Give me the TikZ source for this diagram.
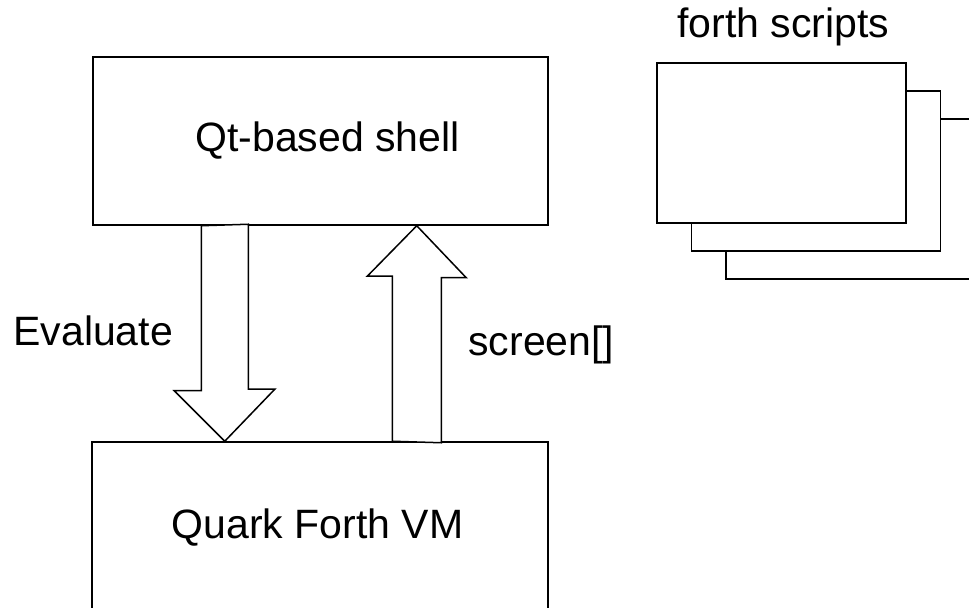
\documentclass[tikz,border=0pt]{standalone}
\usepackage{fontspec}
\setmainfont{Liberation Sans}
\usetikzlibrary{calc,positioning}

\begin{document}
\begin{tikzpicture}[x=0.5pt,y=-0.5pt,
  box/.style={draw,line width=0.75pt,inner sep=0pt,minimum width=227.5pt,minimum height=84pt},
  page/.style={draw,fill=white,line width=0.75pt,inner sep=0pt,minimum width=124.5pt,minimum height=80pt},
  fatarrow/.style={draw,fill=white,line width=0.75pt,line join=miter},
  lbl/.style={font=\fontsize{20.5}{24}\selectfont,inner sep=0pt,anchor=base}]
  \useasboundingbox (0,0) rectangle (969,608);
  \clip (0,0) rectangle (969,608);

  % the two blocks
  \node[box] (shell) at (320.5,141) {};
  \node[box,minimum width=228pt,minimum height=100pt] (vm) at (320,542) {};
  \node[lbl] (shelltxt) at (327.5,152) {Qt-based shell};
  \node[lbl] (vmtxt) at (317.5,539) {Quark Forth VM};

  % stack of script pages, back one first
  \foreach \n in {2,1,0}
    \node[page] (script\n) at ({781.5+34.5*\n},{143+28*\n}) {};
  \node[lbl] (scripttxt) at (783.5,38) {forth scripts};

  % fat arrows between the blocks
  \coordinate (evalin) at ($(shell.south west)+(132.5,0)$);
  \coordinate (evalout) at (evalin |- vm.north);
  \draw[fatarrow] (evalin) ++(-23.5,0) -- ++(0,165) -- ++(-27,0) -- (evalout)
    -- ++(50,-52) -- ++(-26.5,0) -- ++(0,-165) -- cycle;
  \coordinate (scrin) at ($(shell.south west)+(324.5,0)$);
  \coordinate (scrout) at (scrin |- vm.north);
  \draw[fatarrow] (scrout) ++(-24.5,0) -- ++(0,-165) -- ++(-25,0) -- (scrin)
    -- ++(49.5,52) -- ++(-25,0) -- ++(0,165) -- cycle;

  \node[lbl,anchor=base west] (evaltxt) at (13,346) {Evaluate};
  \node[lbl,anchor=base west] (scrtxt) at (468,356) {screen[]};
\end{tikzpicture}
\end{document}
